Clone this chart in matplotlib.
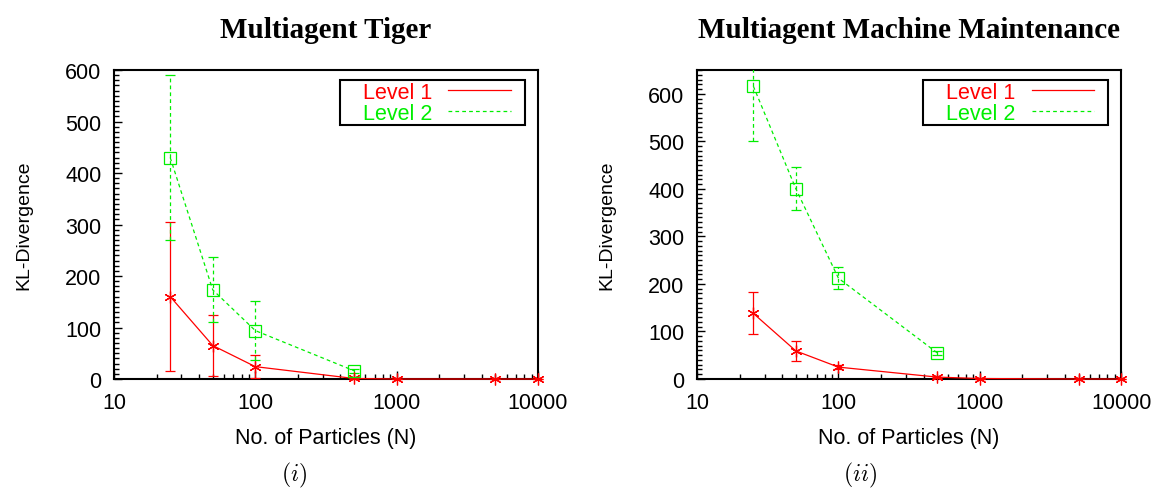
import numpy as np
import matplotlib
matplotlib.use("Agg")
import matplotlib.pyplot as plt
from matplotlib.patches import Rectangle
from matplotlib.ticker import FixedLocator, MultipleLocator, NullFormatter

plt.rcParams['font.family'] = ['Liberation Sans', 'DejaVu Sans']
plt.rcParams['mathtext.fontset'] = 'cm'

# number of particles
particles = [25, 50, 100, 500, 1000, 5000, 10000]
particles_l2 = [25, 50, 100, 500]

# Multiagent Tiger
tiger_l1 = [160, 65, 24, 1, 0, 0, 0]
tiger_l1_err = [145, 60, 22, 1, 0, 0, 0]
tiger_l2 = [430, 173, 94, 16]
tiger_l2_err = [160, 63, 57, 4]

# Multiagent Machine Maintenance
mm_l1 = [138, 59, 25, 4, 1, 0, 0]
mm_l1_err = [44, 21, 5, 1, 0, 0, 0]
mm_l2 = [616, 400, 212, 55]
mm_l2_err = [115, 45, 23, 4]

titles = ["Multiagent Tiger", "Multiagent Machine Maintenance"]
captions = [r"$(i)$", r"$(ii)$"]
caption_x = [0.254, 0.743]
ylims = [600, 650]

red = "#ff0000"
green = "#00ee00"
dash = (0, (3, 2.5))

fig = plt.figure(figsize=(11.57, 4.89), dpi=100)
ax1 = fig.add_axes([0.0985, 0.2229, 0.3665, 0.6319])
ax2 = fig.add_axes([0.6025, 0.2229, 0.3665, 0.6319])

data = [(tiger_l1, tiger_l1_err, tiger_l2, tiger_l2_err),
        (mm_l1, mm_l1_err, mm_l2, mm_l2_err)]

for ax, (l1, l1e, l2, l2e), title, cap, cx, ytop in zip([ax1, ax2], data, titles,
                                                      captions, caption_x, ylims):
    ax.set_xscale('log')
    ax.errorbar(particles, l1, yerr=l1e, color=red, lw=0.9, elinewidth=0.9,
                capsize=3.6, capthick=0.9, marker=(6, 2, 0), ms=8.5, mew=0.9,
                label="Level 1", clip_on=False, zorder=3)
    eb = ax.errorbar(particles_l2, l2, yerr=l2e, color=green, lw=0.9, elinewidth=0.9,
                     capsize=3.6, capthick=0.9, marker='s', ms=8, mfc='none', mew=0.9,
                     ls=dash, label="Level 2", zorder=3)
    eb[-1][0].set_linestyle(dash)

    ax.set_xlim(10, 10000)
    ax.set_ylim(0, ytop)
    ax.xaxis.set_major_locator(FixedLocator([10, 100, 1000, 10000]))
    ax.set_xticklabels(["10", "100", "1000", "10000"])
    minors = [m * d for d in [10, 100, 1000] for m in range(2, 10)]
    ax.xaxis.set_minor_locator(FixedLocator(minors))
    ax.xaxis.set_minor_formatter(NullFormatter())
    ax.yaxis.set_major_locator(MultipleLocator(100))
    ax.yaxis.set_minor_locator(MultipleLocator(10))
    ax.tick_params(which='both', direction='in', top=False, right=False,
                   labelsize=15.5, width=1.0)
    ax.tick_params(which='major', length=6, pad=9)
    ax.tick_params(axis='x', which='major', pad=9.5)
    ax.tick_params(which='minor', length=3.6)
    for s in ax.spines.values():
        s.set_linewidth(1.5)

    ax.set_xlabel("No. of Particles (N)", fontsize=15.5, labelpad=10)
    ax.set_ylabel("KL-Divergence", fontsize=14, labelpad=24)
    ax.set_title(title, fontsize=21, fontweight='bold', family='Liberation Serif', pad=24)

    # legend in gnuplot style: coloured text, sample line on the right
    handles = [plt.Line2D([], [], color=red, lw=0.9),
               plt.Line2D([], [], color=green, lw=0.9, ls=dash)]
    leg = ax.legend(handles, ["Level 1", "Level 2"], loc='upper right',
                    bbox_to_anchor=(0.936, 0.962), markerfirst=False, fontsize=15.5,
                    handlelength=2.9, frameon=False, borderpad=0.0, labelspacing=0.0,
                    handletextpad=0.75, borderaxespad=0)
    for t, c in zip(leg.get_texts(), [red, green]):
        t.set_color(c)
    ax.add_patch(Rectangle((0.533, 0.822), 0.436, 0.146, transform=ax.transAxes,
                           fill=False, ec='black', lw=1.5, zorder=5))

    fig.text(cx, 0.027, cap, fontsize=17, ha='center', va='center')

fig.savefig("out.png", dpi=100)
